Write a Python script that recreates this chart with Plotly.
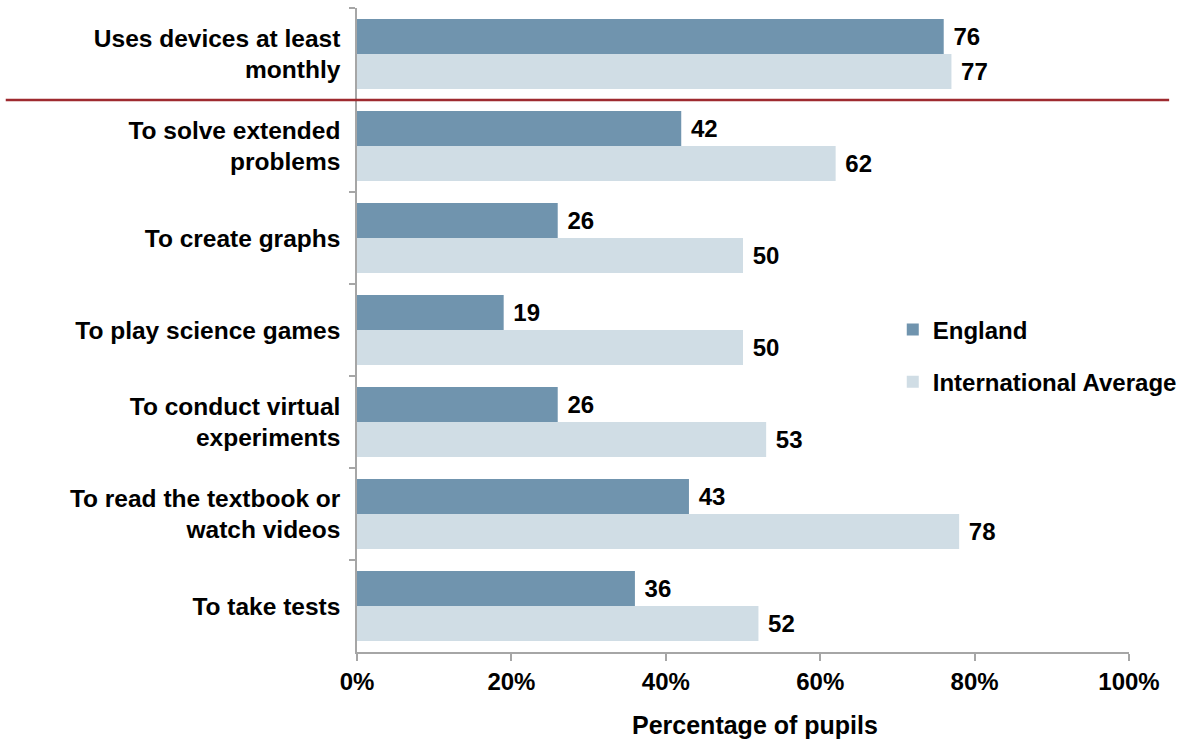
import plotly.graph_objects as go

# Survey items (top to bottom) and percentage of pupils for each group
categories = [
    "Uses devices at least<br>monthly",
    "To solve extended<br>problems",
    "To create graphs",
    "To play science games",
    "To conduct virtual<br>experiments",
    "To read the textbook or<br>watch videos",
    "To take tests",
]
england = [76, 42, 26, 19, 26, 43, 36]
international = [77, 62, 50, 50, 53, 78, 52]
x_ticks = [0, 20, 40, 60, 80, 100]
x_tick_labels = ["0%", "20%", "40%", "60%", "80%", "100%"]

FONT = "Liberation Sans, Arial, sans-serif"
ENG_COLOR = "#7094AE"
INT_COLOR = "#D0DDE5"
AXIS_GREY = "#A6A6A6"
FS = 24

fig = go.Figure()
fig.add_trace(go.Bar(
    y=categories, x=england, name="England", orientation="h",
    marker=dict(color=ENG_COLOR, line=dict(width=0)),
    text=england, texttemplate=" %{text}", textposition="outside",
    textfont=dict(family=FONT, size=FS, color="black", weight="bold"),
    constraintext="none", cliponaxis=False, legendgroup="eng",
))
fig.add_trace(go.Bar(
    y=categories, x=international, name="International Average", orientation="h",
    marker=dict(color=INT_COLOR, line=dict(width=0)),
    text=international, texttemplate=" %{text}", textposition="outside",
    textfont=dict(family=FONT, size=FS, color="black", weight="bold"),
    constraintext="none", cliponaxis=False, legendgroup="int",
))

# Dark red separator under the first item
fig.add_shape(type="line", xref="paper", yref="y",
              x0=-0.455, x1=1.052, y0=0.5, y1=0.5,
              line=dict(color="#9E2A2F", width=2.5))

# Horizontal axis title
fig.add_annotation(text="Percentage of pupils", xref="paper", yref="paper",
                   x=0.5155, y=-0.113, xanchor="center", yanchor="middle",
                   showarrow=False,
                   font=dict(family=FONT, size=25, color="black", weight="bold"))

fig.update_layout(
    width=1195, height=740,
    margin=dict(l=357, r=66, t=8, b=88),
    paper_bgcolor="white", plot_bgcolor="white",
    barmode="group", bargap=0.24, bargroupgap=0,
    font=dict(family=FONT, color="black", weight="bold"),
    showlegend=True,
    legend=dict(
        x=0.694, y=0.535, xanchor="left", yanchor="top",
        font=dict(family=FONT, size=24, color="black", weight="bold"),
        traceorder="grouped", tracegroupgap=18,
        bgcolor="rgba(0,0,0,0)", itemclick=False,
    ),
    xaxis=dict(
        range=[0, 100], tickmode="array", tickvals=x_ticks, ticktext=x_tick_labels,
        showgrid=False, zeroline=False,
        showline=True, linecolor=AXIS_GREY, linewidth=1.5,
        ticks="outside", ticklen=7, tickcolor=AXIS_GREY, tickwidth=1.5,
        tickfont=dict(family=FONT, size=FS, color="black", weight="bold"),
    ),
    yaxis=dict(
        type="category", categoryorder="array", categoryarray=categories,
        autorange="reversed",
        showgrid=False, zeroline=False,
        showline=True, linecolor=AXIS_GREY, linewidth=1.5,
        ticks="outside", ticklen=6, tickcolor=AXIS_GREY, tickwidth=1.5,
        tickson="boundaries",
        tickfont=dict(family=FONT, size=24.5, color="black", weight="bold"),
        ticklabelstandoff=10,
    ),
)

fig.write_html("out.html")
